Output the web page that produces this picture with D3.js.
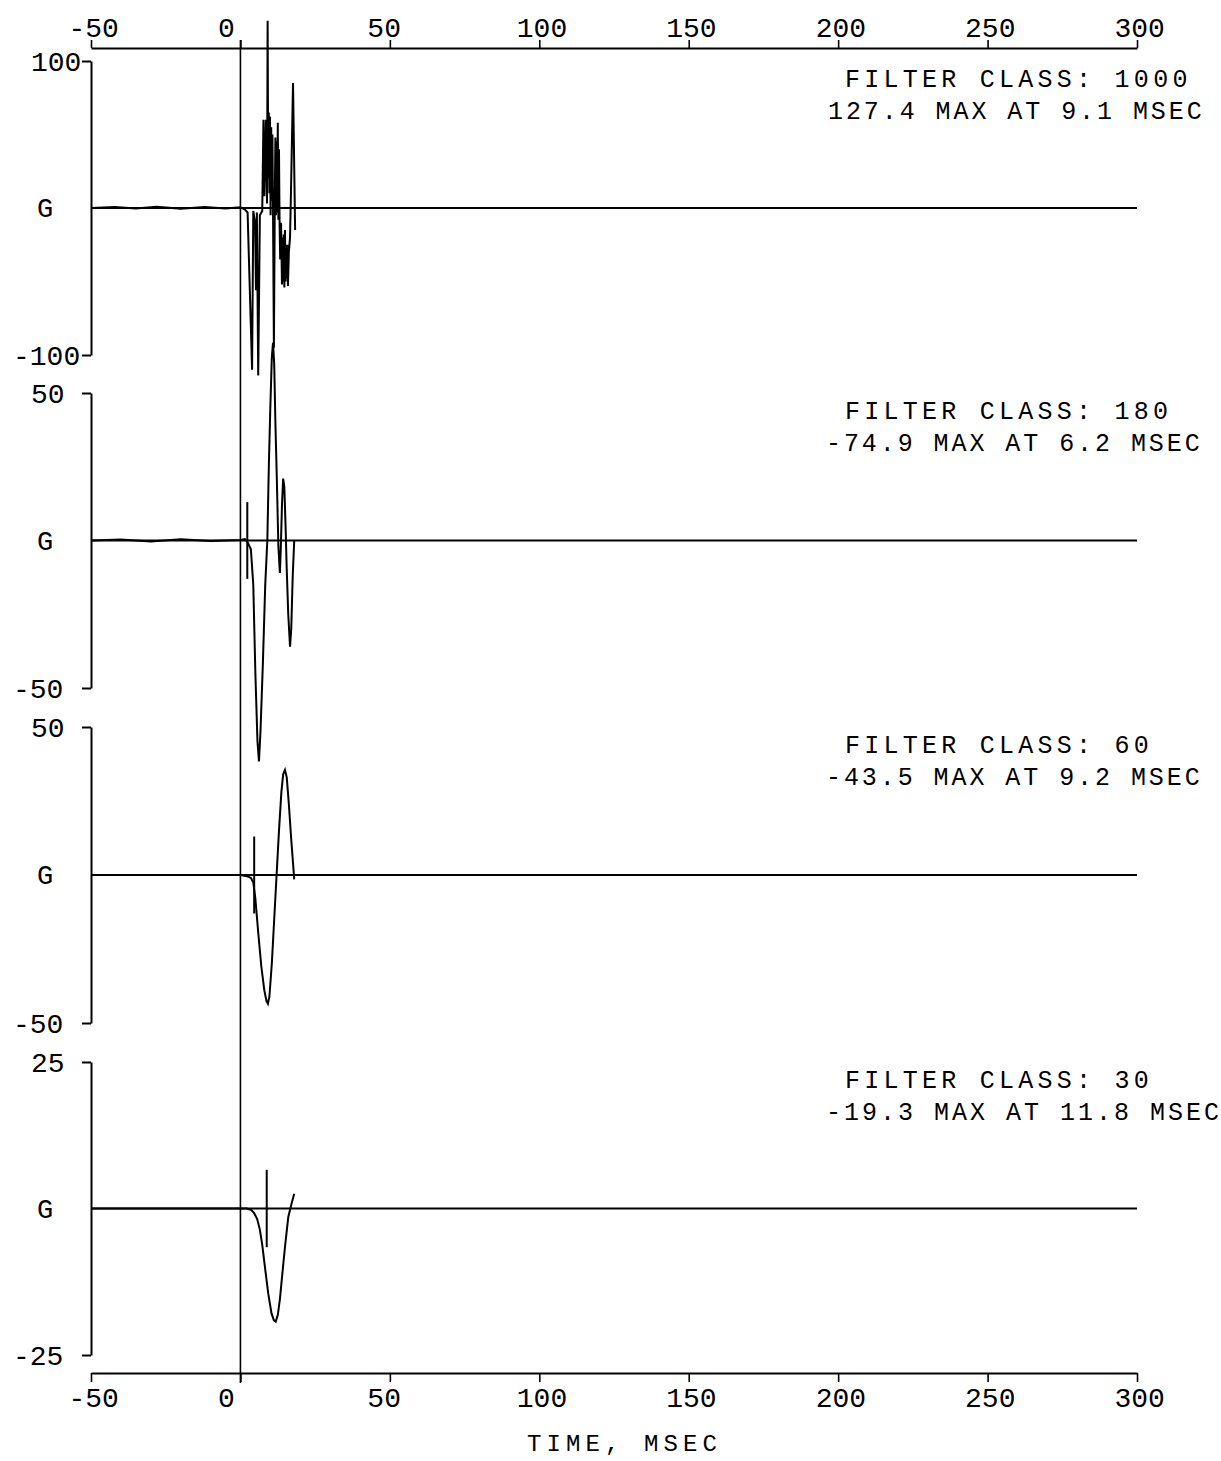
<!DOCTYPE html>
<html>
<head>
<meta charset="utf-8">
<script src="https://cdn.jsdelivr.net/npm/d3@7"></script>
<style>
  html, body { margin: 0; padding: 0; background: #fff; }
  svg { display: block; }
  text { font-family: "Liberation Mono", "DejaVu Sans Mono", monospace; fill: #000; }
</style>
</head>
<body>
<svg id="chart" width="1221" height="1461"></svg>
<script>
// ---------------- DATA ----------------
const xTicks = [-50, 0, 50, 100, 150, 200, 250, 300];
const xLabel = "TIME, MSEC";
const unitLabel = "G";
const filterClasses = [1000, 180, 60, 30];
const maxTexts = ["127.4 MAX AT 9.1 MSEC", "-74.9 MAX AT 6.2 MSEC", "-43.5 MAX AT 9.2 MSEC", "-19.3 MAX AT 11.8 MSEC"];
const yDomains = [[-100, 100], [-50, 50], [-50, 50], [-25, 25]];

// time (ms), acceleration (G)
const cfc1000 = [
  [-50, 0], [-42, 0.6], [-35, -0.4], [-28, 0.8], [-20, -0.5], [-12, 0.7], [-5, -0.3], [0, 0.5],
  [0.5, 0], [1.5, -1], [2.4, -3], [3.9, -110], [4.3, -2], [4.9, -10], [5.2, -56], [5.5, -3],
  [5.95, -114], [6.5, -5], [7.3, -2], [7.7, 60], [8.0, 8], [8.5, 60], [8.9, 3], [9.1, 127.4],
  [9.3, 20], [9.5, 65], [9.7, 10], [9.9, 62], [10.1, -5], [10.3, 55], [10.5, 5], [10.7, 50],
  [10.9, 0], [11.2, -95], [11.5, 5], [11.7, 48], [11.9, -5], [12.1, 45], [12.3, -3], [12.5, 58],
  [12.7, -8], [12.9, 40], [13.1, -10], [13.3, -35], [13.6, -10], [13.9, -52], [14.1, -20],
  [14.3, -50], [14.5, -18], [14.7, -54], [14.9, -15], [15.1, -50], [15.3, -25], [15.5, -48],
  [15.7, -25], [15.9, -53], [16.2, -30], [16.6, -20], [17.0, 20], [17.6, 85], [18.3, -15]
];
const cfc180 = [
  [-50, 0], [-40, 0.3], [-30, -0.3], [-20, 0.4], [-10, -0.2], [0, 0.2], [1.5, 0.5], [2.6, -1],
  [3.5, -3], [4.3, -15], [5.0, -45], [5.7, -68], [6.2, -74.9], [6.7, -65], [7.5, -42], [8.3, -15],
  [9.0, 0], [9.5, 25], [10.0, 45], [10.5, 62], [10.9, 67], [11.3, 60], [11.7, 40], [12.2, 20],
  [12.7, -2], [13.2, -11], [13.5, -3], [13.9, 12], [14.3, 21], [14.7, 18], [15.1, 5], [15.5, -10],
  [16.0, -25], [16.6, -36], [17.0, -30], [17.5, -12], [18.0, 0]
];
const cfc60 = [
  [-50, 0], [0, 0], [2.5, -0.5], [3.5, -1], [4.3, -2.5], [5.0, -8], [6.0, -20], [7.0, -31],
  [8.0, -39], [8.7, -42.5], [9.2, -43.5], [9.7, -41], [10.5, -30], [11.3, -15], [12.1, 0],
  [12.9, 15], [13.7, 28], [14.3, 34], [14.9, 35.5], [15.5, 33], [16.2, 24], [17.0, 12],
  [17.6, 4], [18.0, -1.5]
];
const cfc30 = [
  [-50, 0], [0, 0], [2.1, 0], [3.5, -0.2], [4.6, -0.8], [5.6, -1.8], [6.5, -3.6], [7.3, -6.2],
  [8.2, -10], [9.3, -14.5], [10.4, -17.9], [11.2, -19.1], [11.8, -19.3], [12.5, -18.2],
  [13.2, -15.5], [13.9, -11.8], [14.9, -6.6], [16.0, -1.5], [17.1, 0.8], [18.0, 2.5]
];
const traces = [cfc1000, cfc180, cfc60, cfc30];
// event marker per panel: time (ms) and half height (G)
const markerTimes = [null, 2.3, 4.6, 8.8];
const markerHalf = [0, 13, 13, 6.6];

// ---------------- LAYOUT ----------------
const xLeft = 91, xRight = 1137;
const topAxisY = 48, bottomAxisY = 1373;
const panelTop = [61, 393, 727, 1062];
const panelBottom = [355, 688, 1023, 1355];

const svg = d3.select("#chart");
const x = d3.scaleLinear().domain([-50, 300]).range([xLeft, xRight]);

const strokeW = 2;

// top axis
const topAxis = svg.append("g")
  .attr("transform", `translate(0,${topAxisY})`)
  .call(d3.axisTop(x).tickValues(xTicks).tickSize(8).tickSizeOuter(0).tickFormat(d3.format("d")));
// bottom axis
const botAxis = svg.append("g")
  .attr("transform", `translate(0,${bottomAxisY})`)
  .call(d3.axisBottom(x).tickValues(xTicks).tickSize(9).tickSizeOuter(0).tickFormat(d3.format("d")));

[topAxis, botAxis].forEach((g, i) => {
  g.select(".domain").attr("stroke", "#000").attr("stroke-width", 2);
  g.selectAll(".tick line").attr("stroke", "#000").attr("stroke-width", 1.6);
  g.selectAll(".tick text")
    .attr("text-anchor", "start")
    .attr("x", -23)
    .attr("y", i === 0 ? -21 : 24)
    .attr("dy", "0.35em")
    .style("font-size", "28px")
    .text(d => d < 0 ? "-" + Math.abs(d) : String(d));
});

// panels
traces.forEach((data, i) => {
  const y = d3.scaleLinear().domain(yDomains[i]).range([panelBottom[i], panelTop[i]]);
  const g = svg.append("g");

  // left axis with end ticks only
  const ax = g.append("g")
    .attr("transform", `translate(${xLeft},0)`)
    .call(d3.axisLeft(y).tickValues(yDomains[i]).tickSize(9).tickSizeOuter(0).tickFormat(d3.format("d")));
  ax.select(".domain").attr("stroke", "#000").attr("stroke-width", 2);
  ax.selectAll(".tick line").attr("stroke", "#000").attr("stroke-width", 2);
  ax.selectAll(".tick text")
    .attr("text-anchor", "start")
    .attr("x", d => (d < 0 ? 13 : 31) - xLeft)
    .attr("dy", "0.35em")
    .style("font-size", "28px")
    .text(d => d < 0 ? "-" + Math.abs(d) : String(d));

  // unit label at zero
  g.append("text")
    .attr("x", 45).attr("y", y(0)).attr("dy", "0.35em")
    .attr("text-anchor", "middle")
    .style("font-size", "27px")
    .text(unitLabel);

  // zero reference line
  g.append("line")
    .attr("x1", x(x.domain()[0])).attr("x2", x(x.domain()[1]))
    .attr("y1", y(0)).attr("y2", y(0))
    .attr("stroke", "#000").attr("stroke-width", strokeW);

  // trace
  g.append("path")
    .datum(data)
    .attr("fill", "none")
    .attr("stroke", "#000")
    .attr("stroke-width", strokeW)
    .attr("stroke-linejoin", "miter")
    .attr("d", d3.line().x(d => x(d[0])).y(d => y(d[1])));

  // event marker
  if (markerTimes[i] !== null) {
    g.append("line")
      .attr("x1", x(markerTimes[i])).attr("x2", x(markerTimes[i]))
      .attr("y1", y(markerHalf[i])).attr("y2", y(-markerHalf[i]))
      .attr("stroke", "#000").attr("stroke-width", strokeW);
  }

  // annotation
  const pitch = 19.3, dotW = 6, gap = 5;
  const fit = s => Array.from(s).reduce((a, c) => a + (c === "." ? dotW : pitch), 0) - gap;
  const line1 = "FILTER CLASS: " + filterClasses[i];
  const line2 = maxTexts[i];
  const yText = panelTop[i] + 17;
  g.append("text")
    .attr("x", 845).attr("y", yText).attr("dy", "0.35em")
    .attr("textLength", fit(line1)).attr("lengthAdjust", "spacing")
    .style("font-size", "25px")
    .text(line1);
  g.append("text")
    .attr("x", line2.startsWith("-") ? 826 : 828).attr("y", yText + 32).attr("dy", "0.35em")
    .attr("textLength", fit(line2)).attr("lengthAdjust", "spacing")
    .style("font-size", "25px")
    .text(line2);
});

// time-zero vertical line through all panels
svg.append("line")
  .attr("x1", x(0)).attr("x2", x(0))
  .attr("y1", topAxisY - 8).attr("y2", bottomAxisY + 10)
  .attr("stroke", "#000").attr("stroke-width", 1.6);

// x axis title
svg.append("text")
  .attr("x", (527 + 717) / 2).attr("y", 1443).attr("dy", "0.35em")
  .attr("text-anchor", "middle")
  .attr("textLength", 190).attr("lengthAdjust", "spacing")
  .style("font-size", "24px")
  .text(xLabel);
</script>
</body>
</html>
